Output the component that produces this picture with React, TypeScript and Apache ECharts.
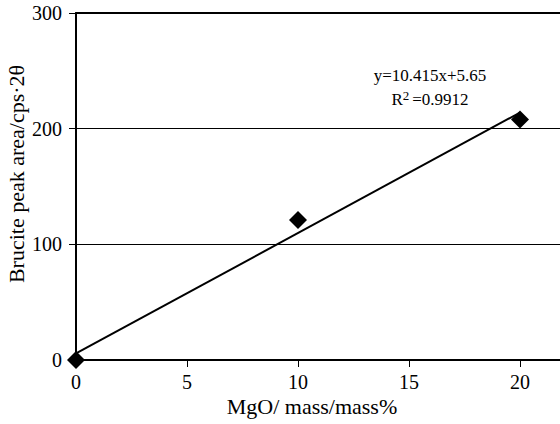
import React, { useEffect, useRef } from "react";
import * as echarts from "echarts";

const mgo = [0, 10, 20];
const peakArea = [0, 121, 208];
const slope = 10.415;
const intercept = 5.65;
const fitX = [0, 20];
const xTicks = [0, 5, 10, 15, 20];
const yTicks = [0, 100, 200, 300];
const equationText = "y=10.415x+5.65";
const r2Value = "0.9912";
const xTitle = "MgO/ mass/mass%";
const yTitle = "Brucite peak area/cps·2θ";

export default function App() {
  const ref = useRef<HTMLDivElement>(null);
  useEffect(() => {
    if (!ref.current) return;
    const chart = echarts.init(ref.current, null, { renderer: "svg", width: 560, height: 424 });
    const font = "Liberation Serif";
    const fitData = fitX.map((x) => [x, slope * x + intercept]);
    const gridWidth = 490;
    const xMax = gridWidth / 22.2;
    chart.setOption({
      animation: false,
      backgroundColor: "#ffffff",
      grid: { left: 76, top: 13, width: gridWidth, bottom: 64, containLabel: false, outerBoundsMode: "none" },
      xAxis: [
        {
          type: "value",
          min: xTicks[0],
          max: xMax,
          interval: 5,
          position: "bottom",
          axisLine: { show: true, lineStyle: { color: "#000", width: 2 } },
          axisTick: { show: true, inside: false, length: 7, lineStyle: { color: "#000", width: 1 } },
          axisLabel: {
            fontFamily: font,
            fontSize: 20,
            color: "#000",
            margin: 12,
            formatter: (v: number) => (xTicks.includes(v) ? String(v) : ""),
          },
          splitLine: { show: false },
        },
        {
          type: "value",
          min: 0,
          max: xMax,
          position: "top",
          axisLine: { show: true, onZero: false, lineStyle: { color: "#000", width: 2 } },
          axisTick: { show: false },
          axisLabel: { show: false },
          splitLine: { show: false },
        },
      ],
      yAxis: {
        type: "value",
        min: yTicks[0],
        max: yTicks[yTicks.length - 1],
        interval: 100,
        axisLine: { show: true, lineStyle: { color: "#000", width: 2 } },
        axisTick: { show: true, inside: false, length: 7, lineStyle: { color: "#000", width: 1 } },
        axisLabel: { fontFamily: font, fontSize: 20, color: "#000", margin: 14 },
        splitLine: { show: true, lineStyle: { color: "#000", width: 1 } },
      },
      series: [
        {
          type: "line",
          data: fitData,
          showSymbol: false,
          symbol: "none",
          lineStyle: { color: "#000", width: 2 },
          z: 2,
        },
        {
          type: "scatter",
          data: mgo.map((x, i) => [x, peakArea[i]]),
          symbol: "diamond",
          symbolSize: [18, 18],
          itemStyle: { color: "#000", opacity: 1 },
          z: 3,
        },
      ],
      graphic: [
        {
          type: "text",
          x: 16,
          y: 174,
          rotation: Math.PI / 2,
          style: {
            text: yTitle,
            fontFamily: font,
            fontSize: 22,
            fill: "#000",
            align: "center",
            verticalAlign: "middle",
          },
        },
        {
          type: "text",
          x: 312,
          y: 406,
          style: {
            text: xTitle,
            fontFamily: font,
            fontSize: 22,
            fill: "#000",
            align: "center",
            verticalAlign: "middle",
          },
        },
        {
          type: "text",
          x: 430,
          y: 75,
          style: {
            text: equationText,
            fontFamily: font,
            fontSize: 17,
            fill: "#000",
            align: "center",
            verticalAlign: "middle",
          },
        },
        {
          type: "text",
          x: 430,
          y: 99,
          style: {
            text: "{b|R}{s|2}{b|=" + r2Value + "}",
            align: "center",
            verticalAlign: "middle",
            rich: {
              b: { fontFamily: font, fontSize: 17, color: "#000" },
              s: { fontFamily: font, fontSize: 13, color: "#000", verticalAlign: "top", padding: [0, 3, 8, 0] },
            },
          },
        },
      ],
    });
    return () => chart.dispose();
  }, []);
  return <div ref={ref} style={{ width: 560, height: 424, position: "absolute", left: 0, top: 0 }} />;
}
